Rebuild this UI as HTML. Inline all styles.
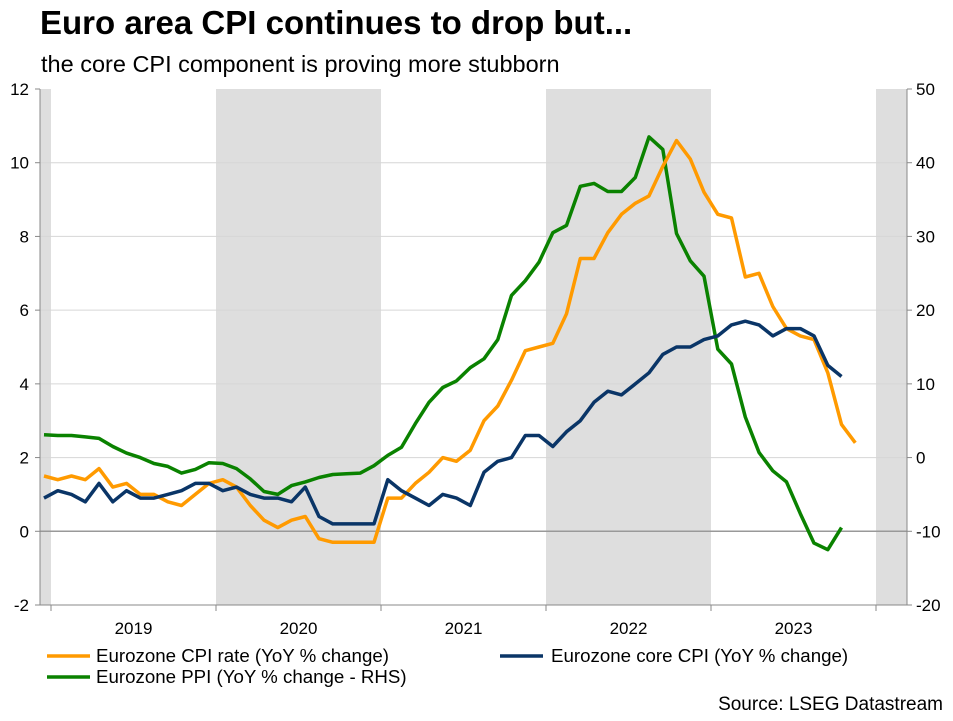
<!DOCTYPE html>
<html><head><meta charset="utf-8">
<style>
body{margin:0;background:#fff;font-family:"Liberation Sans",Arial,sans-serif;}
svg text{font-family:"Liberation Sans",Arial,sans-serif;}
</style></head>
<body>
<svg id="chart" width="953" height="716" xmlns="http://www.w3.org/2000/svg">
<text x="40" y="34" font-size="33" font-weight="bold" fill="#000">Euro area CPI continues to drop but...</text>
<text x="41" y="72" font-size="23.5" fill="#000">the core CPI component is proving more stubborn</text>
<g id="plot"></g>
<g>
<line x1="47" y1="656" x2="90" y2="656" stroke="#FF9A00" stroke-width="3.5"/>
<text x="96" y="662" font-size="18.7">Eurozone CPI rate (YoY % change)</text>
<line x1="500" y1="656" x2="543" y2="656" stroke="#0A3567" stroke-width="3.5"/>
<text x="551" y="662" font-size="18.7">Eurozone core CPI (YoY % change)</text>
<line x1="47" y1="677" x2="90" y2="677" stroke="#0A8200" stroke-width="3.5"/>
<text x="96" y="683" font-size="18.7">Eurozone PPI (YoY % change - RHS)</text>
</g>
<text x="943" y="710" font-size="19" text-anchor="end">Source: LSEG Datastream</text>
</svg>
<script>
const yearLabels=["2019","2020","2021","2022","2023"];
const leftTicks=[-2,0,2,4,6,8,10,12];
const rightTicks=[-20,-10,0,10,20,30,40,50];
const shadedYears=[2018,2020,2022,2024];
const cpi=[1.5,1.4,1.5,1.4,1.7,1.2,1.3,1.0,1.0,0.8,0.7,1.0,1.3,1.4,1.2,0.7,0.3,0.1,0.3,0.4,-0.2,-0.3,-0.3,-0.3,-0.3,0.9,0.9,1.3,1.6,2.0,1.9,2.2,3.0,3.4,4.1,4.9,5.0,5.1,5.9,7.4,7.4,8.1,8.6,8.9,9.1,9.9,10.6,10.1,9.2,8.6,8.5,6.9,7.0,6.1,5.5,5.3,5.2,4.3,2.9,2.4];
const core=[0.9,1.1,1.0,0.8,1.3,0.8,1.1,0.9,0.9,1.0,1.1,1.3,1.3,1.1,1.2,1.0,0.9,0.9,0.8,1.2,0.4,0.2,0.2,0.2,0.2,1.4,1.1,0.9,0.7,1.0,0.9,0.7,1.6,1.9,2.0,2.6,2.6,2.3,2.7,3.0,3.5,3.8,3.7,4.0,4.3,4.8,5.0,5.0,5.2,5.3,5.6,5.7,5.6,5.3,5.5,5.5,5.3,4.5,4.2];
const ppi=[3.1,3.0,3.0,2.8,2.6,1.5,0.6,0.0,-0.8,-1.2,-2.1,-1.6,-0.7,-0.8,-1.5,-2.9,-4.6,-5.0,-3.8,-3.3,-2.7,-2.3,-2.2,-2.1,-1.1,0.3,1.4,4.6,7.5,9.5,10.4,12.2,13.4,16.0,22.0,24.0,26.5,30.5,31.5,36.8,37.2,36.1,36.1,38.0,43.5,41.8,30.4,26.7,24.6,14.7,12.7,5.5,0.7,-1.8,-3.3,-7.6,-11.6,-12.5,-9.5];

const NS="http://www.w3.org/2000/svg";
const g=document.getElementById('plot');
const X0=40,X1=907,YT=89,YB=605;
const yearW=165, jan2019=51;
function xYear(yr){return jan2019+(yr-2019)*yearW;}
function xIdx(i){return 44+i*(yearW/12);}
function yL(v){return YB-(v+2)/14*(YB-YT);}
function yR(v){return YB-(v+20)/70*(YB-YT);}
function mk(tag,attrs){const e=document.createElementNS(NS,tag);for(const k in attrs)e.setAttribute(k,attrs[k]);g.appendChild(e);return e;}

shadedYears.forEach(yr=>{
  const a=Math.max(X0,xYear(yr)),b=Math.min(X1,xYear(yr+1));
  const r=mk('rect',{x:a,y:YT,width:b-a,height:YB-YT,fill:'#DEDEDE'});
  
  
});
leftTicks.forEach(v=>{
  const y=yL(v);
  if(v!==-2&&v!==12){const l=mk('line',{x1:X0,x2:X1,y1:y,y2:y,stroke:v===0?'#999':'#D6D6D6','stroke-width':v===0?1.5:1});
  
  }
  mk('line',{x1:X0-5,x2:X0,y1:y,y2:y,stroke:'#888'});
  const t=mk('text',{x:29,y:y+6,'font-size':17,'text-anchor':'end'});t.textContent=v;
  
  
});
rightTicks.forEach(v=>{
  const y=yR(v);
  mk('line',{x1:X1,x2:X1+5,y1:y,y2:y,stroke:'#888'});
  const t=mk('text',{x:916,y:y+6,'font-size':17});t.textContent=v;
  
  
});
mk('line',{x1:X0,x2:X0,y1:YT,y2:YB,stroke:'#888'});
mk('line',{x1:X1,x2:X1,y1:YT,y2:YB,stroke:'#888'});
mk('line',{x1:X0,x2:X1,y1:YB,y2:YB,stroke:'#888'});
for(let yr=2019;yr<=2024;yr++){mk('line',{x1:xYear(yr),x2:xYear(yr),y1:YB,y2:YB+6,stroke:'#888'});}
yearLabels.forEach((lab,i)=>{
  const t=mk('text',{x:xYear(2019+i)+yearW/2,y:634,'font-size':17,'text-anchor':'middle'});t.textContent=lab;
  
  
});
function line(data,yf,color,name){
  const p=mk('polyline',{points:data.map((v,i)=>xIdx(i).toFixed(1)+','+yf(v).toFixed(1)).join(' '),fill:'none',stroke:color,'stroke-width':3.5,'stroke-linejoin':'round'});
  
  
}
line(ppi,yR,'#0A8200','ppi-line');
line(cpi,yL,'#FF9A00','cpi-line');
line(core,yL,'#0A3567','core-cpi-line');
</script>
</body></html>
